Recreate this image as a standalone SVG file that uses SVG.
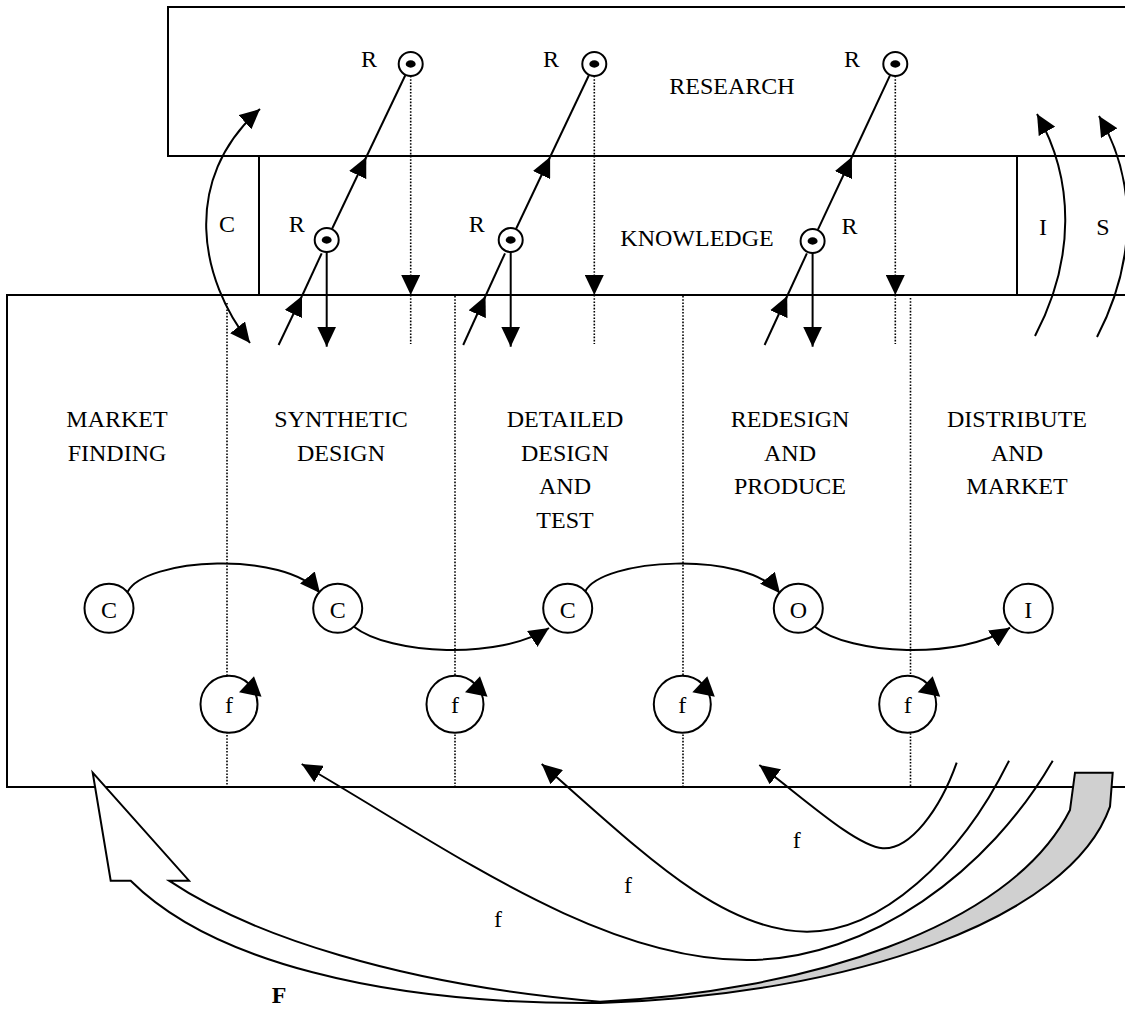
<svg xmlns="http://www.w3.org/2000/svg" width="1125" height="1009" viewBox="0 0 1125 1009">
<style>
.ln{stroke:#000;stroke-width:2;fill:none}
.dot{stroke:#000;stroke-width:1.6;stroke-dasharray:1.6 1.6;fill:none}
.t{font-family:"Liberation Serif","Times New Roman",serif;font-size:24px;fill:#000;text-anchor:middle}
.nd{fill:#fff;stroke:#000;stroke-width:2}
.hd{fill:#000;stroke:none}
</style>
<defs>
<marker id="ah" markerUnits="userSpaceOnUse" viewBox="0 0 20 19" refX="20" refY="9.5" markerWidth="20" markerHeight="19" orient="auto-start-reverse">
<path d="M0,0 L20,9.5 L0,19 Z" fill="#000"/>
</marker>
<linearGradient id="fg" gradientUnits="userSpaceOnUse" x1="0" y1="0" x2="1125" y2="0">
<stop offset="0" stop-color="#fff"/>
<stop offset="0.55" stop-color="#fff"/>
<stop offset="0.55" stop-color="#d0d0d0"/>
<stop offset="1" stop-color="#d0d0d0"/>
</linearGradient>
<polygon id="fa" points="10,-12 25,-28 32.5,-7.5" fill="#000"/>
</defs>

<g id="research">
<rect x="168" y="7" width="980" height="149" class="ln"/>
<text class="t" x="732" y="94">RESEARCH</text>
</g>

<g id="knowledge">
<line x1="259" y1="156" x2="259" y2="295" class="ln"/>
<line x1="1017" y1="156" x2="1017" y2="295" class="ln"/>
<text class="t" x="697" y="246">KNOWLEDGE</text>
<text class="t" x="227" y="232">C</text>
<text class="t" x="1043" y="235">I</text>
<text class="t" x="1103" y="235">S</text>
</g>

<g id="stages">
<rect x="7" y="295" width="1140" height="492" class="ln"/>
<line x1="227" y1="303" x2="227" y2="787" class="dot"/>
<line x1="455" y1="296" x2="455" y2="787" class="dot"/>
<line x1="683" y1="296" x2="683" y2="787" class="dot"/>
<line x1="910.5" y1="298" x2="910.5" y2="787" class="dot"/>
</g>

<g id="connectors">
<!-- F big feedback arrow -->
<path d="M92.7,772.7 L189,880.7 L169,880.7 C250,935 400,985 600,1001.7 C800,992 1010,930 1070,810 L1075,772.7 L1112.7,772.7 L1110,806.7 C1070,920 850,995 600,1003 C380,1005 210,960 130.7,880.7 L110.7,880.7 Z" fill="url(#fg)" stroke="#000" stroke-width="2" stroke-linejoin="miter"/>
<!-- f feedback arrows -->
<path class="ln" d="M956.7,762.7 C940,810 910,850 882.7,848.3 C855,846 800,795 759.3,765" marker-end="url(#ah)"/>
<path class="ln" d="M1009,760.7 C960,860 880,932 806.7,931.7 C720,931 640,850 541.7,764" marker-end="url(#ah)"/>
<path class="ln" d="M1052.7,760.7 C990,870 870,960 746.7,960 C600,960 450,850 301.7,764" marker-end="url(#ah)"/>
<!-- C, I, S links -->
<path class="ln" d="M250,343 C200,280 180,180 260,109" marker-start="url(#ah)" marker-end="url(#ah)"/>
<path class="ln" d="M1035,336 C1075,260 1075,180 1037,114" marker-end="url(#ah)"/>
<path class="ln" d="M1097,337 C1137,260 1137,180 1099,116" marker-end="url(#ah)"/>
<!-- R links column 1 -->
<line class="ln" x1="278.6" y1="345" x2="302" y2="296" marker-end="url(#ah)"/>
<line class="ln" x1="302" y1="296" x2="321.7" y2="253.3"/>
<line class="ln" x1="326.7" y1="252" x2="326.7" y2="346.7" marker-end="url(#ah)"/>
<line class="ln" x1="332.1" y1="228.7" x2="366.3" y2="157" marker-end="url(#ah)"/>
<line class="ln" x1="366.3" y1="157" x2="405.3" y2="75.3"/>
<line class="dot" x1="410.7" y1="76" x2="410.7" y2="295" marker-end="url(#ah)"/>
<line class="dot" x1="410.7" y1="295" x2="410.7" y2="344"/>
<!-- R links column 2 -->
<line class="ln" x1="463.2" y1="345" x2="485.5" y2="296" marker-end="url(#ah)"/>
<line class="ln" x1="485.5" y1="296" x2="505" y2="253.3"/>
<line class="ln" x1="510.7" y1="252" x2="510.7" y2="346.7" marker-end="url(#ah)"/>
<line class="ln" x1="516.1" y1="228.7" x2="550.1" y2="157" marker-end="url(#ah)"/>
<line class="ln" x1="550.1" y1="157" x2="588.9" y2="75.3"/>
<line class="dot" x1="594.3" y1="76" x2="594.3" y2="295" marker-end="url(#ah)"/>
<line class="dot" x1="594.3" y1="295" x2="594.3" y2="344"/>
<!-- R links column 3 -->
<line class="ln" x1="764.6" y1="345" x2="787.2" y2="296" marker-end="url(#ah)"/>
<line class="ln" x1="787.2" y1="296" x2="806.9" y2="253.3"/>
<line class="ln" x1="812.6" y1="253" x2="812.6" y2="346.7" marker-end="url(#ah)"/>
<line class="ln" x1="817.9" y1="229.7" x2="851.9" y2="157" marker-end="url(#ah)"/>
<line class="ln" x1="851.9" y1="157" x2="890" y2="75.3"/>
<line class="dot" x1="895.3" y1="76" x2="895.3" y2="295" marker-end="url(#ah)"/>
<line class="dot" x1="895.3" y1="295" x2="895.3" y2="344"/>
<!-- C O I chain -->
<path class="ln" d="M127.7,591.7 C145,558 285,550 320,593" marker-end="url(#ah)"/>
<path class="ln" d="M354,626.7 C390,655 500,660 549,628" marker-end="url(#ah)"/>
<path class="ln" d="M585,591.7 C602,558 745,550 780,593.3" marker-end="url(#ah)"/>
<path class="ln" d="M815,626.7 C850,655 960,660 1010,627.7" marker-end="url(#ah)"/>
</g>

<g id="label-market-finding"><text class="t" x="117" y="427">MARKET<tspan x="117" y="460.5">FINDING</tspan></text></g>
<g id="label-synthetic-design"><text class="t" x="341" y="427">SYNTHETIC<tspan x="341" y="460.5">DESIGN</tspan></text></g>
<g id="label-detailed"><text class="t" x="565" y="427">DETAILED<tspan x="565" y="460.5">DESIGN</tspan><tspan x="565" y="494">AND</tspan><tspan x="565" y="527.5">TEST</tspan></text></g>
<g id="label-redesign"><text class="t" x="790" y="427">REDESIGN<tspan x="790" y="460.5">AND</tspan><tspan x="790" y="494">PRODUCE</tspan></text></g>
<g id="label-distribute"><text class="t" x="1017" y="427">DISTRIBUTE<tspan x="1017" y="460.5">AND</tspan><tspan x="1017" y="494">MARKET</tspan></text></g>

<g id="r1"><circle class="nd" cx="410.7" cy="64" r="12"/><ellipse class="hd" cx="410.7" cy="64" rx="5" ry="3.7"/><text class="t" x="369" y="67">R</text></g>
<g id="r2"><circle class="nd" cx="594.3" cy="64" r="12"/><ellipse class="hd" cx="594.3" cy="64" rx="5" ry="3.7"/><text class="t" x="551" y="67">R</text></g>
<g id="r3"><circle class="nd" cx="895.3" cy="64" r="12"/><ellipse class="hd" cx="895.3" cy="64" rx="5" ry="3.7"/><text class="t" x="852" y="67">R</text></g>
<g id="k1"><circle class="nd" cx="326.7" cy="240" r="12"/><ellipse class="hd" cx="326.7" cy="240" rx="5" ry="3.7"/><text class="t" x="296.7" y="232">R</text></g>
<g id="k2"><circle class="nd" cx="510.7" cy="240" r="12"/><ellipse class="hd" cx="510.7" cy="240" rx="5" ry="3.7"/><text class="t" x="476.7" y="232">R</text></g>
<g id="k3"><circle class="nd" cx="812.6" cy="241" r="12"/><ellipse class="hd" cx="812.6" cy="241" rx="5" ry="3.7"/><text class="t" x="849.4" y="234">R</text></g>

<g id="c1"><circle class="nd" cx="109" cy="608.3" r="24.5"/><text class="t" x="109" y="618">C</text></g>
<g id="c2"><circle class="nd" cx="337.7" cy="608.3" r="24.5"/><text class="t" x="337.7" y="618">C</text></g>
<g id="c3"><circle class="nd" cx="567.7" cy="608.3" r="24.5"/><text class="t" x="567.7" y="618">C</text></g>
<g id="o1"><circle class="nd" cx="798.3" cy="608.3" r="24.5"/><text class="t" x="798.3" y="618">O</text></g>
<g id="i1"><circle class="nd" cx="1028.3" cy="608.3" r="24.5"/><text class="t" x="1028.3" y="618">I</text></g>

<g id="f1"><circle class="nd" cx="229" cy="704.3" r="28.5"/><use href="#fa" x="229" y="704.3"/><text class="t" x="229" y="713">f</text></g>
<g id="f2"><circle class="nd" cx="455" cy="704.3" r="28.5"/><use href="#fa" x="455" y="704.3"/><text class="t" x="455" y="713">f</text></g>
<g id="f3"><circle class="nd" cx="682.3" cy="704.3" r="28.5"/><use href="#fa" x="682.3" y="704.3"/><text class="t" x="682.3" y="713">f</text></g>
<g id="f4"><circle class="nd" cx="907.7" cy="704.3" r="28.5"/><use href="#fa" x="907.7" y="704.3"/><text class="t" x="907.7" y="713">f</text></g>

<g id="feedback-labels">
<text class="t" x="796.7" y="848">f</text>
<text class="t" x="628" y="892.7">f</text>
<text class="t" x="498" y="926.7">f</text>
<text class="t" x="279" y="1002.7" font-weight="bold">F</text>
</g>
</svg>
